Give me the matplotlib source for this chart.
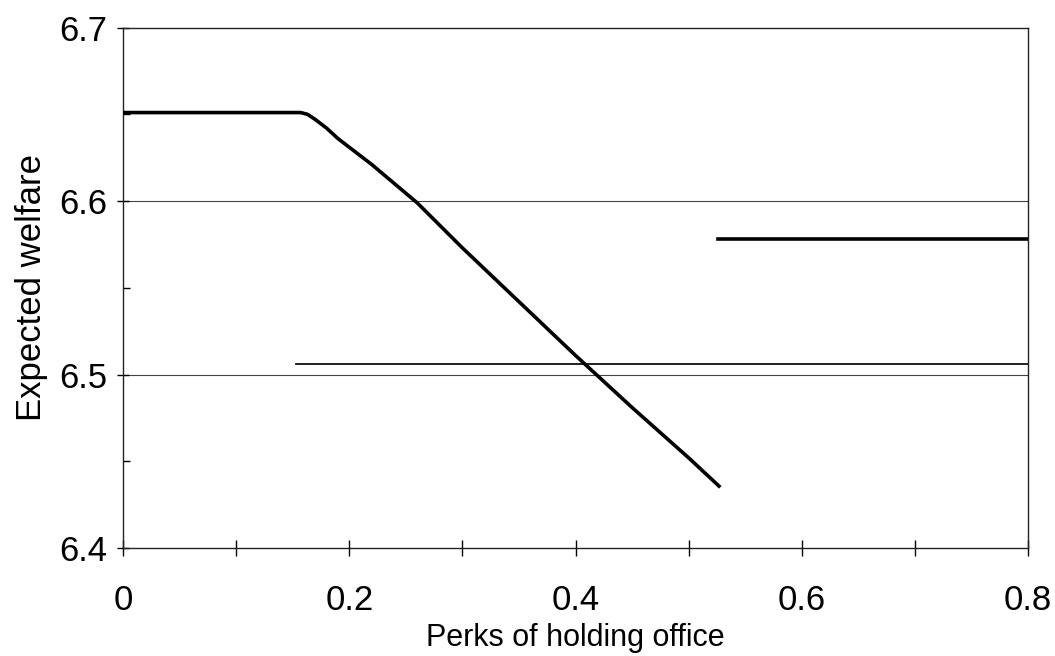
import numpy as np
import matplotlib
matplotlib.use("Agg")
import matplotlib.pyplot as plt
from matplotlib.ticker import MultipleLocator

plt.rcParams['font.family'] = ['Liberation Sans', 'DejaVu Sans']

# welfare curve
perks = [0.0, 0.150, 0.157, 0.163, 0.170, 0.18, 0.19, 0.20, 0.22, 0.26, 0.30, 0.35, 0.40, 0.45, 0.50, 0.528]
welfare = [6.651, 6.651, 6.651, 6.650, 6.647, 6.642, 6.636, 6.631, 6.621, 6.599, 6.573, 6.542, 6.511, 6.481, 6.452, 6.435]

# flat benchmark lines
upper_x = [0.526, 0.8]
upper_y = [6.578, 6.578]
lower_x = [0.153, 0.8]
lower_y = [6.506, 6.506]

xticks = [0, 0.2, 0.4, 0.6, 0.8]
xtick_labels = ['0', '0.2', '0.4', '0.6', '0.8']
yticks = [6.4, 6.5, 6.6, 6.7]
ytick_labels = ['6.4', '6.5', '6.6', '6.7']

fig = plt.figure(figsize=(10.55, 6.56), dpi=100)
ax = fig.add_axes([0.1166, 0.1646, 0.8578, 0.7934])

# gridlines at 6.5 and 6.6
for g in [6.5, 6.6]:
    ax.axhline(g, color='#444444', lw=0.8, zorder=1)

ax.plot(lower_x, lower_y, color='#111111', lw=1.3, zorder=2)
ax.plot(upper_x, upper_y, color='black', lw=2.6, zorder=3)
ax.plot(perks, welfare, color='black', lw=2.6, zorder=3,
        solid_joinstyle='round', solid_capstyle='butt')

ax.set_xlim(0, 0.8)
ax.set_ylim(6.4, 6.7)
ax.set_xticks(xticks)
ax.set_xticklabels(xtick_labels)
ax.set_yticks(yticks)
ax.set_yticklabels(ytick_labels)
ax.xaxis.set_minor_locator(MultipleLocator(0.1))
ax.yaxis.set_minor_locator(MultipleLocator(0.05))

ax.tick_params(axis='x', which='both', direction='inout', length=12, width=1,
               labelsize=25, pad=20)
ax.tick_params(axis='y', which='major', direction='inout', length=8, width=1,
               labelsize=25, pad=7)
ax.tick_params(axis='y', which='minor', direction='in', length=5, width=1)

for s in ax.spines.values():
    s.set_linewidth(1.0)
    s.set_color('#222222')

ax.set_xlabel('Perks of holding office', fontsize=22, labelpad=4)
ax.set_ylabel('Expected welfare', fontsize=25, labelpad=8)

fig.savefig('out.png', dpi=100)
